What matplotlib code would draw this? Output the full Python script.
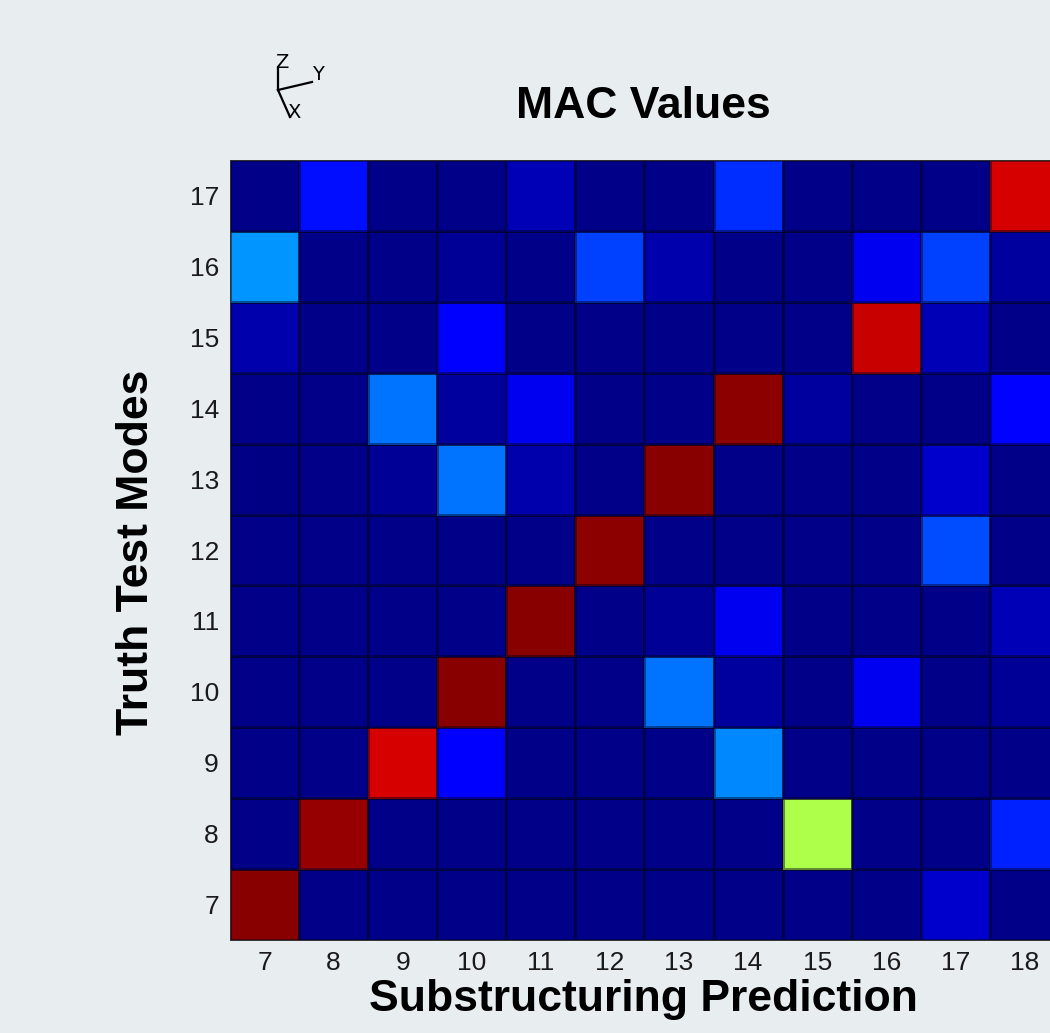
import matplotlib
matplotlib.use("Agg")
import matplotlib.pyplot as plt
import numpy as np
from matplotlib.lines import Line2D

# MAC matrix: rows = truth test modes 7..17, cols = substructuring prediction 7..18
pred_modes = [7, 8, 9, 10, 11, 12, 13, 14, 15, 16, 17, 18]
test_modes = [7, 8, 9, 10, 11, 12, 13, 14, 15, 16, 17]

mac_7 = [0.99, 0.01, 0.01, 0.01, 0.01, 0.01, 0.01, 0.01, 0.01, 0.01, 0.07, 0.01]
mac_8 = [0.01, 0.98, 0.01, 0.01, 0.01, 0.01, 0.01, 0.01, 0.56, 0.01, 0.01, 0.16]
mac_9 = [0.01, 0.01, 0.925, 0.12, 0.01, 0.01, 0.01, 0.26, 0.01, 0.01, 0.01, 0.01]
mac_10 = [0.01, 0.01, 0.01, 0.99, 0.01, 0.01, 0.24, 0.03, 0.01, 0.10, 0.01, 0.02]
mac_11 = [0.01, 0.01, 0.01, 0.01, 0.99, 0.01, 0.02, 0.10, 0.01, 0.01, 0.01, 0.05]
mac_12 = [0.01, 0.01, 0.01, 0.01, 0.01, 0.985, 0.01, 0.01, 0.01, 0.01, 0.20, 0.01]
mac_13 = [0.005, 0.01, 0.02, 0.24, 0.04, 0.01, 0.99, 0.01, 0.01, 0.01, 0.07, 0.01]
mac_14 = [0.01, 0.01, 0.24, 0.03, 0.10, 0.01, 0.01, 0.985, 0.03, 0.01, 0.01, 0.125]
mac_15 = [0.04, 0.01, 0.01, 0.11, 0.01, 0.01, 0.01, 0.01, 0.01, 0.935, 0.05, 0.01]
mac_16 = [0.27, 0.01, 0.01, 0.02, 0.01, 0.19, 0.04, 0.01, 0.01, 0.10, 0.19, 0.03]
mac_17 = [0.01, 0.14, 0.01, 0.01, 0.05, 0.01, 0.01, 0.17, 0.01, 0.01, 0.01, 0.925]

mac = np.array([mac_7, mac_8, mac_9, mac_10, mac_11, mac_12,
                mac_13, mac_14, mac_15, mac_16, mac_17])

W, H = 1050, 1033
fig = plt.figure(figsize=(W / 100, H / 100), dpi=100)
fig.patch.set_facecolor("#e8edf0")

# axes placed in pixel terms, right edge runs slightly off the figure
left, right, top, bottom = 230, 1059, 160, 940
ax = fig.add_axes([left / W, 1 - bottom / H, (right - left) / W, (bottom - top) / H])

x_edges = np.arange(len(pred_modes) + 1) + pred_modes[0] - 0.5
y_edges = np.arange(len(test_modes) + 1) + test_modes[0] - 0.5
ax.pcolormesh(x_edges, y_edges, mac, cmap="jet", vmin=0, vmax=1,
              edgecolors=(0, 0, 0.1, 0.45), linewidth=0.8)

ax.set_xticks(pred_modes)
ax.set_yticks(test_modes)
ax.tick_params(length=0, labelsize=19, pad=8, labelcolor="#1a1a1a")
for lab in ax.get_xticklabels() + ax.get_yticklabels():
    lab.set_family("Liberation Sans")
for s in ax.spines.values():
    s.set_color("#333333")
    s.set_linewidth(0.7)

fig.text(643 / W, 1 - 107 / H, "MAC Values", ha="center", va="center",
         fontsize=32, fontweight="bold", family="Liberation Sans")
fig.text(643 / W, 1 - 1000 / H, "Substructuring Prediction", ha="center", va="center",
         fontsize=32, fontweight="bold", family="Liberation Sans")
fig.text(137 / W, 1 - 552 / H, "Truth Test Modes", ha="center", va="center",
         rotation=90, fontsize=32, fontweight="bold", family="Liberation Sans")

# little axis triad in the corner
def px(x, y):
    return x / W, 1 - y / H

o = (278, 90)
for end in [(278, 68), (312, 82), (290, 117)]:
    xs, ys = zip(px(*o), px(*end))
    fig.add_artist(Line2D(xs, ys, color="black", linewidth=1.6))
for t, pos in [("Z", (282, 62)), ("Y", (318, 74)), ("X", (294, 112))]:
    fig.text(*px(*pos), t, ha="center", va="center", fontsize=14,
             family="DejaVu Sans")

fig.savefig("out.png", dpi=100, facecolor=fig.get_facecolor())
